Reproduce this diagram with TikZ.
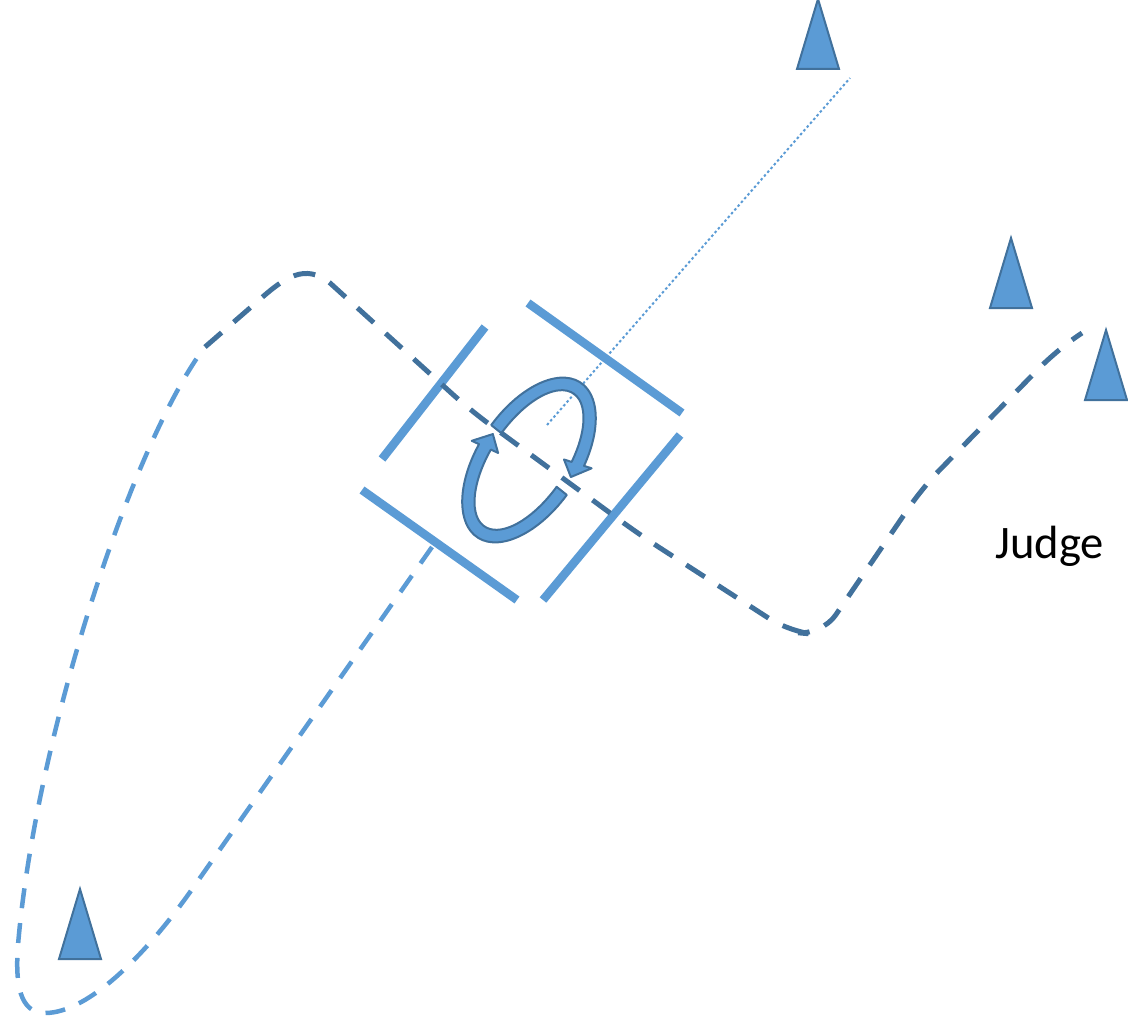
\documentclass[tikz,border=0pt]{standalone}
\usepackage{fontspec}
\setmainfont{Carlito}
\definecolor{coneFill}{HTML}{5B9BD5}
\definecolor{coneLine}{HTML}{41719C}
\begin{document}
\begin{tikzpicture}[x=0.5pt,y=0.5pt,
	cone/.style={draw=coneLine,fill=coneFill,line width=1pt},
	frameline/.style={draw=coneFill,line width=4.25pt},
	sightline/.style={draw=coneFill,line width=1pt,dash pattern=on 1.25pt off 1.25pt},
	turnarrow/.style={draw=coneLine,fill=coneFill,line width=1pt,line join=round},
	pathlight/.style={draw=coneFill,line width=2.25pt,dash pattern=on 10pt off 7.5pt},
	pathdark/.style={draw=coneLine,line width=2.5pt,dash pattern=on 11pt off 8pt}]
  \useasboundingbox (0,0) rectangle (1128,1025);
  \foreach \cx/\cy in {818/956,1011/717,1106/625,80/66}
    \draw[cone] (\cx-21,\cy) -- (\cx,\cy+70) -- (\cx+21,\cy) -- cycle;
  \draw[sightline] (547,600) -- (850,947);
  \draw[frameline] (485,698) -- (382,566);
  \draw[frameline] (528,722) -- (682,612);
  \draw[frameline] (680,590) -- (543,425);
  \draw[frameline] (362,535) -- (517,425);
  \begin{scope}[shift={(529,565)},rotate=56.3]
    \foreach \ta/\tb/\tc in {85/-74/-84,-95/-261/-271}
      \draw[turnarrow] ({93*cos(\ta)},{51*sin(\ta)})
        arc[start angle=\ta,end angle=\tb,x radius=93,y radius=51]
        -- ({101*cos(\tb)},{59*sin(\tb)}) -- ({86.5*cos(\tc)},{44.5*sin(\tc)})
        -- ({72*cos(\tb)},{30*sin(\tb)}) -- ({80*cos(\tb)},{38*sin(\tb)})
        arc[start angle=\tb,end angle=\ta,x radius=80,y radius=38] -- cycle;
  \end{scope}
  \draw[pathlight] (432,478) -- (195,140) .. controls (150,75) and (90,12) .. (45,12)
    .. controls (20,12) and (15,40) .. (18,80) .. controls (35,280) and (125,560) .. (197,667);
  \draw[pathdark] (205,678) -- (258,724) .. controls (285,748) and (305,762) .. (330,742)
    [rounded corners=12] -- (470,615) -- (640,490) -- (790,393) -- (822,390)
    -- (923,538) -- (1057,675) -- (1082,692);
  \node[anchor=base west,inner sep=0pt,font=\fontsize{23.3}{28}\selectfont] (judge) at (995,467) {Judge};
\end{tikzpicture}
\end{document}
